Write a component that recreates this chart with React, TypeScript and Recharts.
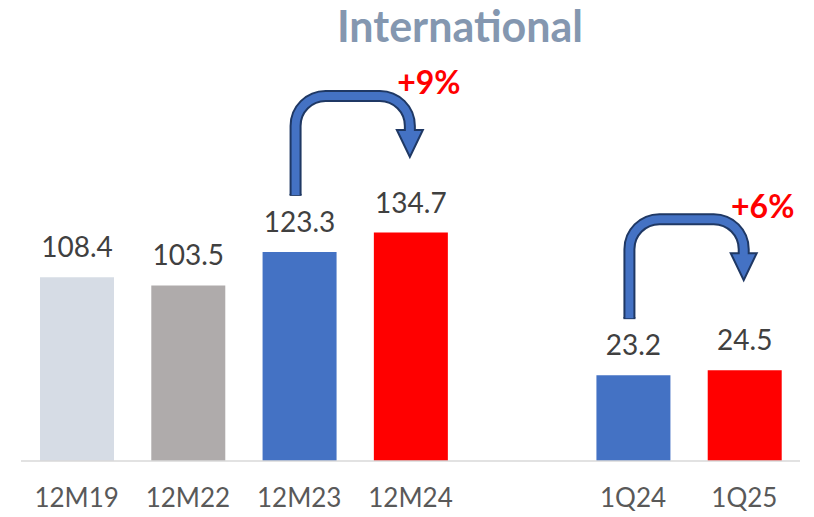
import { Bar, BarChart, Cell, LabelList, XAxis, YAxis } from 'recharts'

const categories = ['12M19', '12M22', '12M23', '12M24', '', '1Q24', '1Q25']
const annualValues = [108.4, 103.5, 123.3, 134.7, null, null, null]
const quarterValues = [null, null, null, null, null, 23.2, 24.5]
const growthLabels = [null, null, '+9%', null, null, '+6%', null]
const barColors = ['#D6DCE5', '#AFABAB', '#4472C4', '#FF0000', '#FFFFFF', '#4472C4', '#FF0000']

const WIDTH = 814
const HEIGHT = 517
const MARGIN = { top: 54, right: 14, bottom: 0, left: 21 }
const STEP = (WIDTH - MARGIN.left - MARGIN.right) / categories.length
const FONT = 'Lato, "Open Sans", sans-serif'

const data = categories.map((name, i) => ({
  name,
  annual: annualValues[i],
  quarter: quarterValues[i],
  growth: growthLabels[i],
}))

/** Bent arrow from the labelled bar to the next one, with the growth figure. */
function GrowthArrow(props: any) {
  const { value } = props
  const vb = props.viewBox ?? props
  if (!value || !vb || !(vb.height > 0)) return null
  const cx = vb.x + vb.width / 2
  const top = vb.y
  const x0 = cx - 4
  const x1 = cx + STEP - 1
  const yBottom = top - 57
  const yTop = top - 156
  const r = 30
  const headBase = yTop + 34
  const tip = yTop + 61
  const half = 13
  const shaft = (end: number) =>
    `M${x0},${yBottom} L${x0},${yTop + r} A${r},${r} 0 0 1 ${x0 + r},${yTop} ` +
    `L${x1 - r},${yTop} A${r},${r} 0 0 1 ${x1},${yTop + r} L${x1},${end}`

  return (
    <g>
      <path d={shaft(headBase)} fill="none" stroke="#1F3864" strokeWidth={12} />
      <path d={`M${x0 - 6},${yBottom} L${x0 + 6},${yBottom}`} stroke="#1F3864" strokeWidth={2} />
      <polygon
        points={`${x1 - half},${headBase} ${x1 + half},${headBase} ${x1},${tip}`}
        fill="#4472C4"
        stroke="#1F3864"
        strokeWidth={2}
        strokeLinejoin="miter"
      />
      <path d={shaft(headBase + 2)} fill="none" stroke="#4472C4" strokeWidth={8} />
      <text
        x={x1 + 19}
        y={yTop - 14}
        textAnchor="middle"
        dominantBaseline="central"
        fill="#FF0000"
        fontWeight="bold"
        fontSize={32}
        fontFamily={FONT}
      >
        {value}
      </text>
    </g>
  )
}

const valueLabelStyle = { fill: '#404040', fontSize: 28, fontFamily: FONT }

export default function App() {
  return (
    <div style={{ position: 'absolute', left: 0, top: 0, width: WIDTH, height: HEIGHT, background: '#fff' }}>
      <div
        style={{
          position: 'absolute',
          left: 260,
          top: 0,
          width: 400,
          textAlign: 'center',
          fontFamily: FONT,
          fontWeight: 'bold',
          fontSize: 43,
          lineHeight: 1.2,
          color: '#8497B0',
        }}
      >
        International
      </div>
      <BarChart width={WIDTH} height={HEIGHT} data={data} margin={MARGIN} barGap={-74} barSize={74}>
        <XAxis
          dataKey="name"
          height={56}
          axisLine={{ stroke: '#D9D9D9', strokeWidth: 1.5 }}
          tickLine={false}
          tickMargin={22}
          interval={0}
          tick={{ fill: '#595959', fontSize: 26, fontFamily: FONT }}
        />
        <YAxis yAxisId="annual" hide domain={[0, 240]} />
        <YAxis yAxisId="quarter" hide domain={[0, 110]} />
        <Bar yAxisId="annual" dataKey="annual" isAnimationActive={false}>
          {data.map((d, i) => (
            <Cell key={d.name + i} fill={barColors[i]} />
          ))}
          <LabelList
            dataKey="annual"
            position="top"
            offset={20}
            style={valueLabelStyle}
            formatter={(v: any) => (v == null ? '' : Number(v).toFixed(1))}
          />
          <LabelList dataKey="growth" content={GrowthArrow} />
        </Bar>
        <Bar yAxisId="quarter" dataKey="quarter" isAnimationActive={false}>
          {data.map((d, i) => (
            <Cell key={d.name + i} fill={barColors[i]} />
          ))}
          <LabelList
            dataKey="quarter"
            position="top"
            offset={20}
            style={valueLabelStyle}
            formatter={(v: any) => (v == null ? '' : Number(v).toFixed(1))}
          />
          <LabelList dataKey="growth" content={GrowthArrow} />
        </Bar>
      </BarChart>
    </div>
  )
}
